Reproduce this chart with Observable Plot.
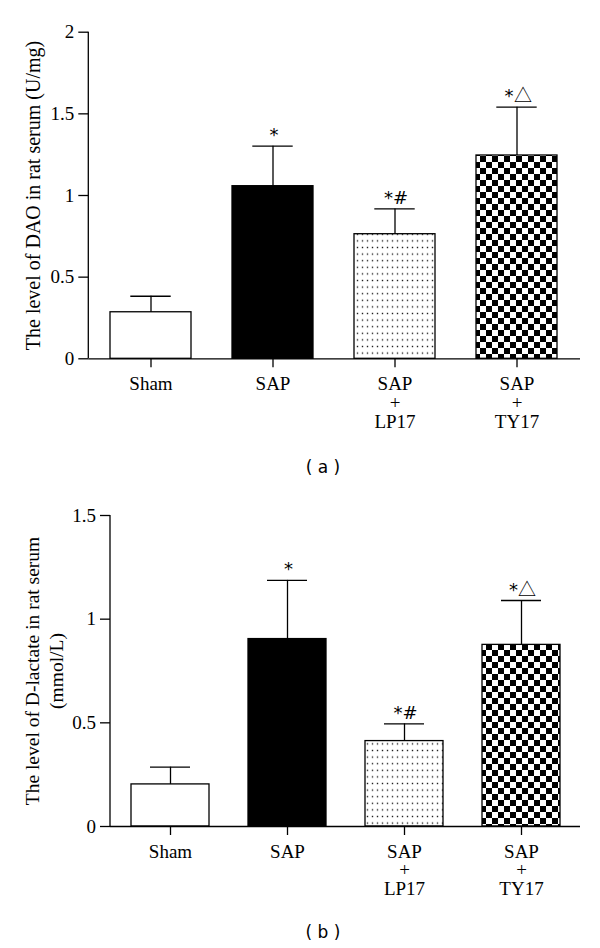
<!DOCTYPE html>
<html><head><meta charset="utf-8">
<script src="https://cdn.jsdelivr.net/npm/d3@7"></script>
<script src="https://cdn.jsdelivr.net/npm/@observablehq/plot@0.6"></script>
<style>
@font-face{font-family:"TriSym";src:local("Noto Sans CJK SC Regular"),local("NotoSansCJKsc-Regular"),local("Noto Sans CJK SC");unicode-range:U+25B3;}
body{margin:0;background:#fff;}
#wrap{position:relative;width:600px;height:948px;overflow:hidden;background:#fff;}
.fig{position:absolute;left:0;z-index:1;}
.fig svg{font-family:"Liberation Serif",serif !important;font-size:19px !important;}
.cap{position:absolute;z-index:3;left:273px;width:100px;text-align:center;font-family:"DejaVu Sans";font-size:17px;line-height:20px;color:#000;white-space:pre;}
</style></head>
<body><div id="wrap">
<svg width="0" height="0" style="position:absolute;left:0;top:0"><defs>
<pattern id="dots" width="5" height="6.6" patternUnits="userSpaceOnUse">
<rect width="5" height="6.6" fill="white"/>
<rect x="1.8" y="2.6" width="1.4" height="1.4" fill="#222"/>
</pattern>
<pattern id="checker" width="12" height="12" patternUnits="userSpaceOnUse">
<rect width="12" height="12" fill="white"/>
<rect width="6" height="6" fill="black"/>
<rect x="6" y="6" width="6" height="6" fill="black"/>
</pattern>
</defs></svg>
<div class="fig" id="figA" style="top:0px"></div>
<div class="cap" style="top:457px">( a )</div>
<div class="fig" id="figB" style="top:470px"></div>
<div class="cap" style="top:922px">( b )</div>
</div>
<script>
// ---- data ----
const groups = ["Sham", "SAP", "SAP\n+\nLP17", "SAP\n+\nTY17"];
const notes = ["", "*", "*#", "*△"];
const daoMean = [0.285, 1.057, 0.763, 1.245];
const daoUpper = [0.383, 1.302, 0.918, 1.541];
const lacMean = [0.203, 0.904, 0.412, 0.876];
const lacUpper = [0.286, 1.187, 0.495, 1.09];
const daoTicks = [0, 0.5, 1, 1.5, 2];
const lacTicks = [0, 0.5, 1, 1.5];
const daoLabel = "The level of DAO in rat serum (U/mg)";
const lacLabel = "The level of D-lactate in rat serum\n(mmol/L)";

// ---- styles ----
const FONT = "Liberation Serif";
const fillFor = {"Sham": "white", "SAP": "black", "SAP\n+\nLP17": "url(#dots)", "SAP\n+\nTY17": "url(#checker)"};

function rows(mean, upper) {
  return groups.map((g, i) => ({group: g, mean: mean[i], upper: upper[i], note: notes[i]}));
}

function leftLine(index, scales, values, dims) {
  return d3.create("svg:line")
    .attr("x1", dims.marginLeft).attr("x2", dims.marginLeft)
    .attr("y1", dims.marginTop).attr("y2", dims.height - dims.marginBottom)
    .attr("stroke", "black").attr("stroke-width", 1.3).node();
}

function chart(o) {
  const data = rows(o.mean, o.upper);
  return Plot.plot({
    width: 600, height: o.height,
    marginLeft: o.ml, marginRight: 20, marginTop: o.mt, marginBottom: o.mb,
    style: {background: "transparent", color: "black"},
    x: {domain: groups, paddingInner: o.pi, paddingOuter: o.po, label: null},
    y: {domain: o.domain, label: null},
    color: {type: "identity"},
    marks: [
      Plot.barY(data, {x: "group", y: "mean", fill: d => fillFor[d.group], stroke: "black", strokeWidth: 1.3}),
      Plot.ruleX(data, {x: "group", y1: "mean", y2: "upper", stroke: "black", strokeWidth: 1.3}),
      Plot.tickY(data, {x: "group", y: "upper", stroke: "black", strokeWidth: 1.3, insetLeft: o.inset, insetRight: o.inset}),
      Plot.text(data, {x: "group", y: "upper", text: "note", lineAnchor: "bottom", dy: -5, dx: 1, fontSize: 18, fontFamily: "TriSym, DejaVu Sans", fill: "black"}),
      Plot.ruleY([0], {stroke: "black", strokeWidth: 1.3}),
      leftLine,
      Plot.axisY({ticks: o.ticks, tickFormat: d => String(d), tickSize: 10, tickPadding: 4.5, strokeWidth: 1.3, fontSize: 19, fontFamily: FONT, fill: "black", label: null}),
      Plot.axisX({tickSize: 9, tickPadding: 8.5, strokeWidth: 1.3, fontSize: 19, fontFamily: FONT, fill: "black", label: null}),
      Plot.text([o.label], {text: d => d, frameAnchor: "left", dx: o.ldx, rotate: -90, textAnchor: "middle", lineAnchor: "middle", lineHeight: o.lh, fontSize: o.lfs, fontFamily: FONT, fill: "black"})
    ]
  });
}

document.getElementById("figA").append(chart({
  mean: daoMean, upper: daoUpper, domain: [0, 2], ticks: daoTicks, label: daoLabel,
  height: 440, ml: 88.3, mt: 31.7, mb: 81.7, pi: 0.333, po: 0.167, inset: 20.3, ldx: -55, lh: 1, lfs: 20
}));
document.getElementById("figB").append(chart({
  mean: lacMean, upper: lacUpper, domain: [0, 1.5], ticks: lacTicks, label: lacLabel,
  height: 440, ml: 110, mt: 45, mb: 84, pi: 0.334, po: 0.174, inset: 19, ldx: -67, lh: 1.23, lfs: 19.5
}));
</script>
</body></html>
